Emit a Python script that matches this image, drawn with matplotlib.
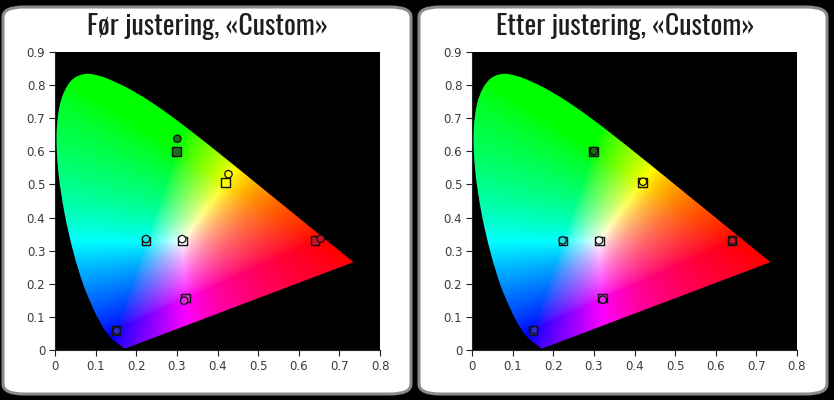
import numpy as np
import matplotlib
matplotlib.use("Agg")
import matplotlib.pyplot as plt
from matplotlib.patches import PathPatch, FancyBboxPatch
from matplotlib.path import Path

# CIE 1931 spectral locus, 380-700 nm
locus_x = [0.1741, 0.1738, 0.1733, 0.1726, 0.1714, 0.1689, 0.1644, 0.1566,
           0.1440, 0.1355, 0.1241, 0.1096, 0.0913, 0.0687, 0.0454, 0.0235,
           0.0082, 0.0039, 0.0139, 0.0389, 0.0743, 0.1142, 0.1547, 0.1929,
           0.2296, 0.2658, 0.3016, 0.3373, 0.3731, 0.4087, 0.4441, 0.4788,
           0.5125, 0.5448, 0.5752, 0.6029, 0.6270, 0.6482, 0.6658, 0.6801,
           0.6915, 0.7006, 0.7079, 0.7140, 0.7190, 0.7230, 0.7260, 0.7300,
           0.7334, 0.7347]
locus_y = [0.0050, 0.0049, 0.0048, 0.0048, 0.0051, 0.0069, 0.0109, 0.0177,
           0.0297, 0.0399, 0.0578, 0.0868, 0.1327, 0.2007, 0.2950, 0.4127,
           0.5384, 0.6548, 0.7502, 0.8120, 0.8338, 0.8262, 0.8059, 0.7816,
           0.7543, 0.7243, 0.6923, 0.6589, 0.6245, 0.5896, 0.5547, 0.5202,
           0.4866, 0.4544, 0.4242, 0.3965, 0.3725, 0.3514, 0.3340, 0.3197,
           0.3083, 0.2993, 0.2920, 0.2859, 0.2809, 0.2770, 0.2740, 0.2700,
           0.2666, 0.2653]

titles = ["Før justering, «Custom»", "Etter justering, «Custom»"]

# order: green, yellow, cyan, white, red, magenta, blue
target_x = [0.300, 0.419, 0.224, 0.313, 0.640, 0.322, 0.150]
target_y = [0.600, 0.505, 0.329, 0.329, 0.330, 0.157, 0.060]
before_x = [0.301, 0.427, 0.224, 0.313, 0.654, 0.318, 0.152]
before_y = [0.638, 0.531, 0.335, 0.335, 0.336, 0.149, 0.058]
after_x = [0.300, 0.421, 0.223, 0.313, 0.641, 0.322, 0.153]
after_y = [0.601, 0.508, 0.331, 0.331, 0.330, 0.152, 0.060]
fills = ["#1b6e1b", "#ffff00", "#22e2e2", "#ffffff", "#c8142c", "#e22ee2", "#2a2ad0"]


def cie_colours(xx, yy):
    X = xx / yy
    Z = (1 - xx - yy) / yy
    M = np.array([[3.2406, -1.5372, -0.4986],
                  [-0.9689, 1.8758, 0.0415],
                  [0.0557, -0.2040, 1.0570]])
    rgb = np.stack([M[i, 0] * X + M[i, 1] + M[i, 2] * Z for i in range(3)], axis=-1)
    rgb = np.clip(rgb, 0, None)
    rgb = rgb / rgb.max(axis=-1, keepdims=True)
    return rgb ** (1 / 1.4)


def smooth_outline(xs, ys):
    # catmull-rom through the locus points, straight purple line back
    p = np.column_stack([xs, ys])
    verts = [p[0]]
    codes = [Path.MOVETO]
    for i in range(len(p) - 1):
        p0 = p[max(i - 1, 0)]
        p3 = p[min(i + 2, len(p) - 1)]
        c1 = p[i] + (p[i + 1] - p0) / 6
        c2 = p[i + 1] - (p3 - p[i]) / 6
        verts += [c1, c2, p[i + 1]]
        codes += [Path.CURVE4] * 3
    verts.append(p[0])
    codes.append(Path.CLOSEPOLY)
    return Path(verts, codes)


gx, gy = np.meshgrid(np.linspace(0.0005, 0.8, 500), np.linspace(0.0005, 0.9, 560))
field = cie_colours(gx, gy)

fig = plt.figure(figsize=(8.34, 4.0), dpi=100)
fig.patch.set_facecolor("black")

for left in [3, 419]:
    box = FancyBboxPatch((left / 834, 6 / 400), 408 / 834, 387 / 400,
                         boxstyle="round,pad=0,rounding_size=0.025",
                         transform=fig.transFigure, facecolor="white",
                         edgecolor="#8a8a8a", linewidth=2.2, zorder=-5)
    fig.add_artist(box)

for k, (pts_x, pts_y) in enumerate([(before_x, before_y), (after_x, after_y)]):
    off = 0 if k == 0 else 417
    ax = fig.add_axes([(55 + off) / 834, 50 / 400, 325 / 834, 298 / 400])
    ax.set_facecolor("black")
    im = ax.imshow(field, extent=[0, 0.8, 0, 0.9], origin="lower",
                   aspect="auto", interpolation="bilinear")
    horseshoe = PathPatch(smooth_outline(locus_x, locus_y), facecolor="none",
                          edgecolor="none", transform=ax.transData)
    ax.add_patch(horseshoe)
    im.set_clip_path(horseshoe)

    ax.scatter(target_x, target_y, marker="s", s=40, c=fills,
               edgecolors="#111111", linewidths=1.0, zorder=3)
    ax.scatter(pts_x, pts_y, marker="o", s=28, c=fills,
               edgecolors="#111111", linewidths=0.9, zorder=4)

    ax.set_xlim(0, 0.8)
    ax.set_ylim(0, 0.9)
    ax.set_xticks(np.arange(0, 0.81, 0.1))
    ax.set_yticks(np.arange(0, 0.91, 0.1))
    ax.set_xticklabels(["0"] + ["%.1f" % v for v in np.arange(0.1, 0.81, 0.1)])
    ax.set_yticklabels(["0"] + ["%.1f" % v for v in np.arange(0.1, 0.91, 0.1)])
    ax.tick_params(direction="out", length=4, width=0.8, color="#222222",
                   labelsize=8.5, labelcolor="#3a3a3a", pad=3)
    for s in ["top", "right"]:
        ax.spines[s].set_visible(False)
    for s in ["left", "bottom"]:
        ax.spines[s].set_color("#222222")

    fig.text((208 + off) / 834, 1 - 27 / 400, titles[k], ha="center", va="center",
             fontsize=20, color="#1e1e1e", fontweight=300,
             family=["Oswald Light", "Oswald ExtraLight", "Oswald", "DejaVu Sans"])

fig.savefig("out.png", dpi=100, facecolor=fig.get_facecolor())
